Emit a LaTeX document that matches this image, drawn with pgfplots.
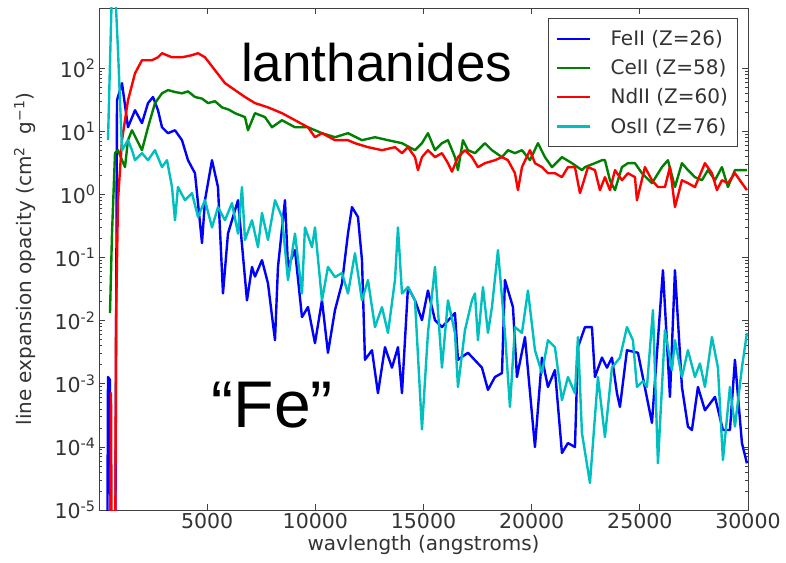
\documentclass[border=0pt]{standalone}
\usepackage{fontspec}
\setmainfont{DejaVu Sans}
\newfontfamily\arialfont{Liberation Sans}
\usepackage{pgfplots}
\pgfplotsset{compat=1.18}
\usetikzlibrary{calc}
\definecolor{mplgreen}{rgb}{0,0.5,0}
\definecolor{mplcyan}{rgb}{0,0.75,0.75}
\definecolor{axgray}{gray}{0.25}
\begin{document}
\begin{tikzpicture}
\begin{axis}[
  scale only axis,
  width=649pt, height=502pt,
  ymode=log,
  xmin=0, xmax=30000,
  ymin=1e-5, ymax=900,
  xtick={5000,10000,15000,20000,25000,30000},
  scaled x ticks=false,
  ytick={1e-5,1e-4,1e-3,1e-2,1e-1,1,10,100},
  yticklabels={10\textsuperscript{-5},10\textsuperscript{-4},10\textsuperscript{-3},10\textsuperscript{-2},10\textsuperscript{-1},10\textsuperscript{0},10\textsuperscript{1},10\textsuperscript{2}},
  /pgf/number format/1000 sep={},
  /pgf/number format/assume math mode=true,
  tick label style={font=\fontsize{20.5}{24}\selectfont, text=black!80},
  label style={font=\fontsize{20}{24}\selectfont, text=black!80},
  xlabel={wavlength (angstroms)},
  ylabel={line expansion opacity (cm\textsuperscript{2}\ \ g\textsuperscript{−1})},
  xlabel style={at={(axis description cs:0.5,-0.0797)}, anchor=base},
  ylabel style={at={(axis description cs:-0.114,0.5)}, anchor=center},
  axis line style={axgray, line width=0.9pt},
  tick style={axgray, line width=0.7pt},
  major tick length=6pt,
  minor tick length=3pt,
  tick align=inside,
  legend style={at={(0.985,0.98)}, anchor=north east, draw=axgray, line width=0.8pt,
    font=\fontsize{20}{24}\selectfont, text=black!80, inner xsep=8pt, inner ysep=10pt,
    row sep=8.5pt},
  legend cell align=left,
  legend image code/.code={\draw[#1] (0pt,0pt) -- (33pt,0pt); \path (0pt,0pt) (50pt,0pt);},
]
% FeII
\addplot[blue, line width=2.4pt, line join=round] coordinates {
(370,1e-7)(416,0.00128)(508,0.00115)(555,1e-7)(740,1e-7)(832,31)(1063,58)(1340,11.6)(1664,21.6)(1987,13.5)
(2265,28)(2496,35)(2727,21.6)(2912,11.6)(3189,9.35)(3513,10.4)(3836,7.24)(4114,3.49)(4437,2.17)(4761,0.17)
(4899,0.81)(5223,3.49)(5500,1.31)(5731,0.027)(5962,0.24)(6425,0.81)(6840,0.021)(7072,0.071)(7210,0.05)
(7534,0.091)(7811,0.039)(8135,0.0049)(8273,0.071)(8597,0.81)(8736,0.071)(9059,0.131)(9383,0.0114)(9660,0.0164)
(9984,0.0044)(10307,0.021)(10584,0.0031)(10908,0.0147)(11231,0.039)(11509,0.24)(11694,0.63)(11971,0.44)
(12156,0.091)(12295,0.0024)(12618,0.0034)(12895,0.00071)(13219,0.0038)(13542,0.0018)(13820,0.0038)(14005,0.00071)
(14282,0.034)(14606,0.021)(14929,0.0102)(15206,0.030)(15530,0.0102)(15853,0.0079)(16454,0.0132)(16593,0.0024)
(17055,0.0031)(17702,0.0018)(17980,0.0008)(18303,0.00128)(18627,0.00148)(18765,0.044)(19135,0.0164)(19320,0.00128)
(19690,0.0055)(20152,0.0000995)(20475,0.0026)(20753,0.00089)(21076,0.00165)(21400,0.00008)(21677,0.000115)
(22001,0.0000995)(22139,0.0038)(22463,0.0079)(22786,0.0079)(22925,0.00128)(23249,0.0026)(23480,0.0018)
(23711,0.0026)(23942,0.00071)(24081,0.00043)(24404,0.0034)(24912,0.0031)(25560,0.00024)(26068,0.063)
(26392,0.00062)(26623,0.063)(26946,0.00089)(27223,0.00021)(27408,0.000185)(27686,0.00089)(28009,0.00038)
(28472,0.00062)(28841,0.000185)(29165,0.000185)(29396,0.0024)(29719,0.000115)(29950,0.000055)
};
\addlegendentry{FeII (Z=26)}
% CeII
\addplot[mplgreen, line width=2.4pt, line join=round] coordinates {
(508,0.0132)(601,0.24)(740,4.51)(878,5.03)(1063,3.49)(1202,2.71)(1340,7.24)(1525,10.4)(1756,7.24)(1987,5.03)
(2265,11.6)(2588,28)(2912,40)(3189,45)(3513,42)(3836,40)(4114,43)(4437,35)(4761,33)(5038,28)(5362,30)(5685,24)
(6009,22)(6286,19.4)(6748,16.8)(6887,10.4)(7210,19.4)(7673,16.8)(7996,11.6)(8458,15.0)(9059,11.6)(9660,11.6)
(10307,9.35)(10908,8.07)(11509,9.35)(12156,7.24)(12757,8.07)(13358,7.24)(14005,6.49)(14606,5.03)(14929,6.49)
(15206,9.35)(15530,5.03)(15853,6.49)(16131,7.24)(16454,3.90)(16593,2.43)(16824,7.24)(17055,5.03)(17379,4.51)
(17841,6.49)(18164,5.03)(18627,3.90)(18904,5.03)(19228,4.51)(19551,5.03)(19921,3.49)(20291,6.49)(20614,3.90)
(20938,2.71)(21400,3.90)(21862,3.13)(22324,2.43)(22463,2.71)(22925,3.13)(23249,3.49)(23387,3.49)(23618,1.68)
(23850,1.17)(24173,2.71)(24450,3.13)(24774,3.13)(25097,2.17)(25560,1.51)(26022,2.71)(26299,3.49)(26623,1.31)
(26946,3.13)(27223,2.43)(27547,1.88)(27871,1.68)(28148,2.43)(28472,1.68)(28795,2.71)(29072,1.31)(29396,2.43)
(29950,2.43)
};
\addlegendentry{CeII (Z=58)}
% NdII
\addplot[red, line width=2.4pt, line join=round] coordinates {
(508,1e-7)(555,0.00071)(601,1e-7)(740,1e-7)(786,0.0102)(878,0.81)(1063,7.24)(1340,31)(1664,83)(1987,134)
(2450,134)(2727,149)(2912,173)(3374,149)(3836,149)(4298,161)(4576,173)(4899,149)(5362,93)(5824,58)(6286,45)
(6748,35)(7210,28)(7811,24)(8458,19.4)(9059,15.0)(9660,11.6)(9984,8.07)(10307,9.35)(10908,7.24)(11509,7.24)
(11832,6.49)(12433,5.61)(13080,5.03)(13681,5.61)(14005,4.51)(14282,5.61)(14606,3.90)(14744,2.43)(14929,3.90)
(15206,5.03)(15530,3.90)(15853,4.51)(16131,3.13)(16316,2.3)(16593,3.90)(16917,5.03)(17240,3.90)(17517,2.71)
(17841,3.13)(18303,3.49)(18627,3.90)(18904,3.49)(19228,2.17)(19366,1.17)(19551,2.71)(19921,5.03)(20152,3.13)
(20475,2.71)(20753,2.17)(21076,2.17)(21400,1.88)(21677,2.71)(22001,2.71)(22232,1.05)(22324,1.31)(22602,2.71)
(22925,2.43)(23156,1.17)(23387,1.88)(23618,1.17)(23850,2.43)(24173,1.68)(24450,2.17)(24774,1.88)(24866,0.81)
(25236,2.71)(25560,1.68)(25837,1.31)(26161,1.31)(26392,2.71)(26623,0.63)(26946,1.68)(27223,1.51)(27547,1.31)
(28009,3.13)(28333,2.17)(28564,1.17)(28795,1.68)(29072,1.51)(29396,2.17)(29719,1.51)(29950,1.17)
};
\addlegendentry{NdII (Z=60)}
% OsII
\addplot[mplcyan, line width=2.4pt, line join=round] coordinates {
(416,7.24)(601,2000)(740,2000)(878,193)(971,31)(1063,5.03)(1340,7.24)(1525,5.03)(1664,3.49)(1987,4.51)
(2265,3.49)(2588,5.03)(2912,2.71)(3143,3.49)(3374,1.31)(3513,0.39)(3651,1.31)(3975,0.81)(4298,1.05)(4576,0.44)
(4899,0.81)(5223,0.30)(5500,0.63)(5824,0.39)(6147,0.73)(6425,0.24)(6609,1.31)(6748,0.19)(7072,0.39)(7349,0.146)
(7534,0.51)(7811,0.19)(8135,0.81)(8458,0.44)(8736,0.044)(9059,0.24)(9383,0.027)(9521,0.30)(9845,0.146)(9984,0.30)
(10307,0.021)(10584,0.071)(10908,0.049)(11231,0.057)(11509,0.027)(11832,0.117)(12156,0.021)(12433,0.044)
(12757,0.0079)(13080,0.0164)(13358,0.0064)(13681,0.044)(13820,0.30)(14005,0.027)(14282,0.034)(14606,0.021)
(14929,0.00019)(15206,0.0064)(15530,0.071)(15853,0.0018)(16131,0.021)(16454,0.0064)(16593,0.00089)(16917,0.0071)
(17240,0.021)(17379,0.027)(17517,0.0049)(17748,0.034)(17980,0.0064)(18164,0.0164)(18442,0.131)(18765,0.0064)
(18996,0.00043)(19228,0.0079)(19551,0.0064)(19828,0.030)(20152,0.0034)(20475,0.00148)(20753,0.0049)(21076,0.0038)
(21400,0.00055)(21677,0.00128)(22001,0.00071)(22139,0.0055)(22324,0.000166)(22694,0.0000268)(23064,0.00128)
(23387,0.000143)(23711,0.0018)(24081,0.0026)(24404,0.0079)(24681,0.0049)(24866,0.00089)(25143,0.0011)
(25329,0.00089)(25606,0.0147)(25837,0.000055)(26161,0.0071)(26484,0.00165)(26623,0.0049)(26946,0.00128)
(27223,0.0034)(27547,0.00128)(27778,0.0021)(28009,0.00089)(28333,0.0055)(28610,0.0018)(28841,0.000062)
(29165,0.00089)(29396,0.00021)(29719,0.0018)(29950,0.0064)
};
\addlegendentry{OsII (Z=76)}
\node[anchor=base, font=\arialfont\fontsize{53}{60}\selectfont] at (rel axis cs:0.428,0.853) {lanthanides};
\node[anchor=base, font=\arialfont\fontsize{66}{72}\selectfont] at (rel axis cs:0.267,0.165) {“Fe”};
\end{axis}
\path ($(current axis.south west)+(-99pt,-52pt)$) rectangle ($(current axis.north east)+(38pt,8pt)$);
\end{tikzpicture}
\end{document}
